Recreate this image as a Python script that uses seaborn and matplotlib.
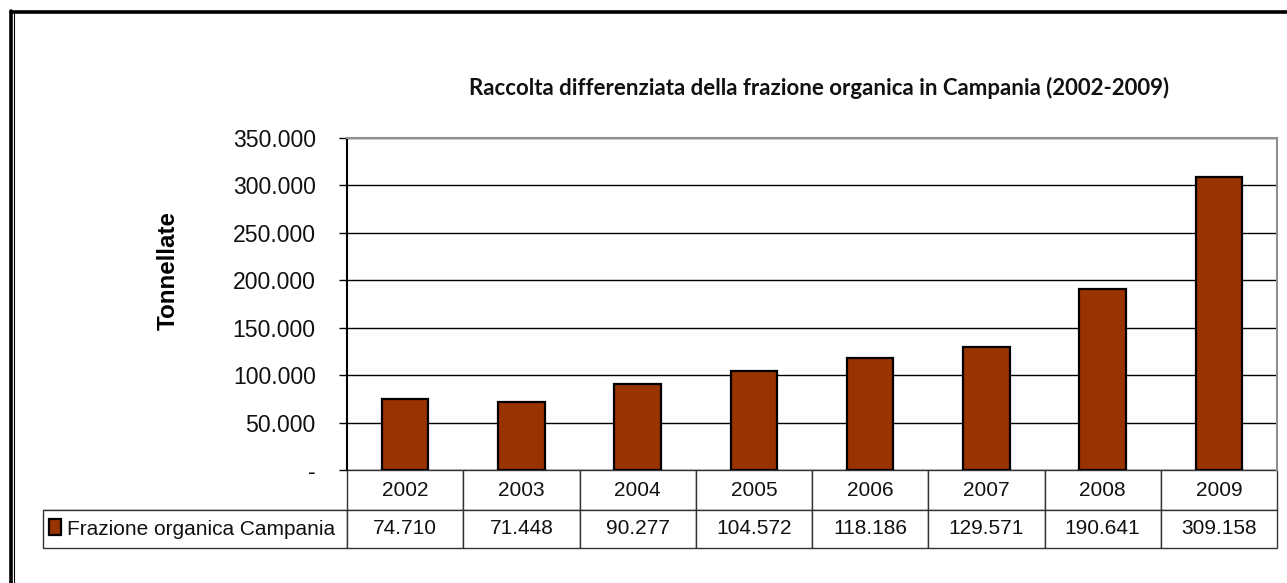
import matplotlib
matplotlib.use('Agg')
import matplotlib.pyplot as plt
import seaborn as sns
import pandas as pd
from matplotlib.lines import Line2D
from matplotlib.ticker import FuncFormatter

# dati
anni = ['2002', '2003', '2004', '2005', '2006', '2007', '2008', '2009']
tonnellate = [74710, 71448, 90277, 104572, 118186, 129571, 190641, 309158]
serie = 'Frazione organica Campania'
titolo = 'Raccolta differenziata della frazione organica in Campania (2002-2009)'

df = pd.DataFrame({'anno': anni, 'ton': tonnellate})

sns.set_style('white')
plt.rcParams['font.family'] = ['Liberation Sans', 'DejaVu Sans']
plt.rcParams['text.color'] = 'black'
plt.rcParams['axes.labelcolor'] = 'black'
plt.rcParams['ytick.color'] = 'black'

def punti(v):
    # separatore delle migliaia all'italiana, zero come trattino
    if v == 0:
        return '-'
    return f'{int(v):,}'.replace(',', '.')

fig = plt.figure(figsize=(12.87, 5.83), dpi=100)
ax = fig.add_axes([347/1287, 1-470/583, 930/1287, 332/583])

sns.barplot(data=df, x='anno', y='ton', color='#993300', width=0.4,
            edgecolor='black', linewidth=1.6, saturation=1, label=serie, ax=ax)

ax.set_ylim(0, 350000)
ax.set_yticks(range(0, 350001, 50000))
ax.yaxis.set_major_formatter(FuncFormatter(lambda v, p: punti(v)))
ax.tick_params(axis='y', labelsize=16.6, length=6, width=1, color='black',
               labelcolor='#111111', direction='out', left=True, pad=16.5)
ax.set_xticks([])
ax.set_xlabel('')
ax.set_ylabel('Tonnellate', fontsize=17.4, fontweight='bold', color='black')
ax.yaxis.label.set_va('center')
ax.yaxis.set_label_coords(-0.1925, 0.602)
ax.yaxis.grid(True, color='black', linewidth=1)
ax.set_axisbelow(True)
ax.spines['left'].set_color('black')
ax.spines['left'].set_linewidth(1.5)
for s in ['top', 'right']:
    ax.spines[s].set_color('#909090')
    ax.spines[s].set_linewidth(1.5)
ax.spines['bottom'].set_visible(False)

# tabella dati sotto il grafico (prima colonna = cella della legenda)
xoff = 304/930
tbl = ax.table(cellText=[[''] + [punti(v) for v in tonnellate]],
               colLabels=[''] + anni, colWidths=[xoff] + [1/8]*8,
               cellLoc='center', bbox=[-xoff, -78/332, 1 + xoff, 78/332])
tbl.auto_set_font_size(False)
for (r, c), cell in tbl.get_celld().items():
    cell.set_edgecolor('#333333')
    cell.set_linewidth(1)
    cell.set_height((40 if r == 0 else 38)/332)
    cell.get_text().set_fontsize(15)
    cell.get_text().set_color('#111111')
tbl[0, 0].visible_edges = 'B'

leg = ax.legend(loc='center left', bbox_to_anchor=(-xoff - 0.003, -59/332),
                frameon=False, fontsize=15, handlelength=0.6, handleheight=0.8,
                handletextpad=0.3, borderaxespad=0)
for t in leg.get_texts():
    t.set_color('#111111')

fig.text(819/1287, 1-88/583, titolo, ha='center', va='center', fontsize=16,
         fontweight='bold', family=['Lato', 'DejaVu Sans'], color='#111111')

# cornice esterna
fig.add_artist(Line2D([11/1287, 11/1287], [0, 1-11/583], color='black', linewidth=2.6))
fig.add_artist(Line2D([13.5/1287, 13.5/1287], [0, 1-11/583], color='black', linewidth=0.8))
fig.add_artist(Line2D([11/1287, 1], [1-11.5/583, 1-11.5/583], color='black', linewidth=2.6))

fig.savefig('out.png', dpi=100)
